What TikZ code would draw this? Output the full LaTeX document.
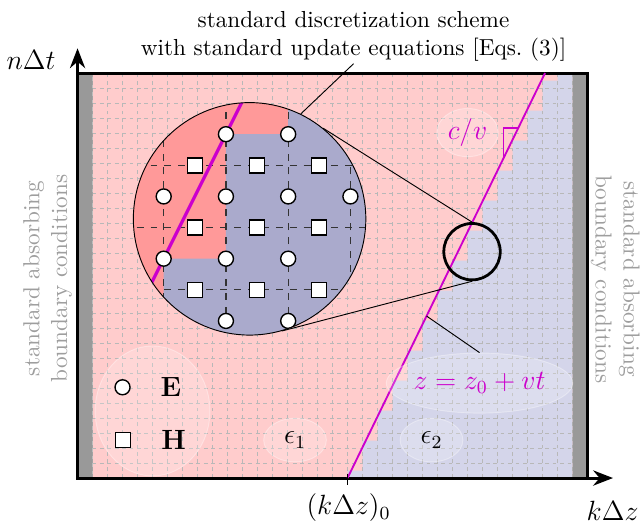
\documentclass[tikz,border=0pt]{standalone}
\usepackage{amsmath,amssymb}
\usepackage{tikz}
\usetikzlibrary{arrows.meta,positioning,shapes.geometric,calc}

\definecolor{mediumone}{RGB}{255,204,204}
\definecolor{mediumtwo}{RGB}{212,213,234}
\definecolor{zoomone}{RGB}{255,153,153}
\definecolor{zoomtwo}{RGB}{170,170,204}
\definecolor{boundary}{RGB}{153,153,153}
\definecolor{front}{RGB}{204,0,204}

\begin{document}
\begin{tikzpicture}[
  x=0.2273cm, y=0.2273cm,
  gridline/.style={black!28, line width=0.35pt, dash pattern=on 1.6pt off 1.6pt},
  zoomgrid/.style={black!80, line width=0.5pt, dashed},
  outline/.style={line width=1.3pt},
  axisline/.style={line width=1.3pt, -{Stealth[length=3mm, width=2.3mm]}},
  front line/.style={front, thick},
  efield/.style={circle, draw, fill=white, semithick, minimum size=0.2273cm, inner sep=0pt},
  hfield/.style={rectangle, draw, fill=white, semithick, minimum size=0.2273cm, inner sep=0pt},
  halo/.style={ellipse, fill=white, fill opacity=0.2, draw=white, draw opacity=0.35, text opacity=1, inner sep=0pt, font=\large},
  absorb/.style={text=black!38, align=center},
  leader/.style={line width=0.4pt},
]
\useasboundingbox (-5.17,-3.13) rectangle (37.5,31.87);
\fill[mediumone] (1,0) rectangle (33,27);
\fill[mediumtwo] (18,0) \foreach \k in {0,...,13} { -- (18+\k,0.5+2*\k) -- (19+\k,0.5+2*\k) } -- (32,27) -- (33,27) -- (33,0) -- cycle;
\draw[gridline, step={(1,1)}] (1,0) grid (33,27);
\fill[boundary] (0,0) rectangle (1,27) (33,0) rectangle (34,27);
\draw[outline] (0,0) rectangle (34,27);
\draw[axisline] (0,0) -- (0,28.65);
\draw[axisline] (0,0) -- (35.7,0);

\coordinate (zstart) at (18,0);
\coordinate (zend) at (31.17,27);
\draw[front line] (zstart) -- (zend);
\draw[front, semithick] ($(zstart)!0.864!(zend)$) -- ++(-1,0) -- ++(0,-2.05);
\draw[semithick] (18,0.3) -- (18,-0.45);

\node[font=\large] (origin) at (18.07,-2.0) {$(k\Delta z)_0$};
\node[font=\large] (zaxis) at (35.67,-2.2) {$k\Delta z$};
\node[font=\large] (taxis) at (-3.1,27.85) {$n\Delta t$};
\node[absorb, rotate=90] (leftbc) at (-2.0,13.3) {standard absorbing\\boundary conditions};
\node[absorb, rotate=-90] (rightbc) at (35.85,13.25) {standard absorbing\\boundary conditions};
\node[anchor=south, align=center, inner sep=1pt] (scheme) at (18.4,27.62) {standard discretization scheme\\with standard update equations [Eqs.~(3)]};

\node[halo, minimum width=1.74cm, minimum height=1.97cm] (legend) at (5.0,4.47) {};
\node[efield] (legE) at (3.0,6.05) {};
\node[right=0.33cm of legE, font=\large] (legEtext) {$\mathbf{E}$};
\node[hfield] (legH) at (3.05,2.53) {};
\node[right=0.33cm of legH, font=\large] (legHtext) {$\mathbf{H}$};
\node[halo, minimum width=0.95cm, minimum height=0.66cm] (eps1) at (14.5,2.53) {$\epsilon_1$};
\node[halo, minimum width=0.95cm, minimum height=0.66cm] (eps2) at (23.6,2.53) {$\epsilon_2$};
\node[halo, text=front, minimum width=2.2cm, minimum height=0.91cm] (zlabel) at (26.8,6.33) {$z=z_0+vt$};
\node[halo, text=front, minimum width=0.93cm, minimum height=0.73cm] (slope) at (26.0,23.03) {$c/v$};

\node[circle, draw, very thick, minimum size=0.855cm, inner sep=0pt] (spot) at (26.3,15.09) {};

\begin{scope}
  \clip (11.47,17.28) circle (7.75);
  \begin{scope}[shift={(9.893,18.774)}, scale=4.15]
    \fill[zoomone] (-3,-3) rectangle (3,3);
    \fill[zoomtwo] (1,3) -- (1,1) -- (0,1) -- (0,-1) -- (-1,-1) -- (-1,-3) -- (3,-3) -- (3,3) -- cycle;
    \foreach \y in {0.5,-0.5,-1.5} \draw[zoomgrid] (-3,\y) -- (3,\y);
    \foreach \x in {-1,...,2} \draw[zoomgrid] (\x,-3) -- (\x,3);
    \draw[front, line width=1.4pt] (1,3) -- (-2,-3);
    \foreach \p [count=\i] in {(0,1),(1,1),(-1,0),(0,0),(1,0),(2,0),(-1,-1),(0,-1),(1,-1),(0,-2),(1,-2)}
      \node[efield] (e\i) at \p {};
    \foreach \x [count=\i] in {-0.5,0.5,1.5}
      \foreach \y [count=\j] in {0.5,-0.5,-1.5}
        \node[hfield] (h\i\j) at (\x,\y) {};
  \end{scope}
\end{scope}
\node[circle, draw, leader, minimum size=3.523cm, inner sep=0pt] (lens) at (11.47,17.28) {};

\draw[leader] (scheme.south) -- (lens.64);
\draw[leader] (lens.51) -- (spot.north);
\draw[leader] (lens.-74) -- (spot.south);
\draw[leader] ($(zstart)!0.4!(zend)$) -- (zlabel.north);
\end{tikzpicture}
\end{document}
